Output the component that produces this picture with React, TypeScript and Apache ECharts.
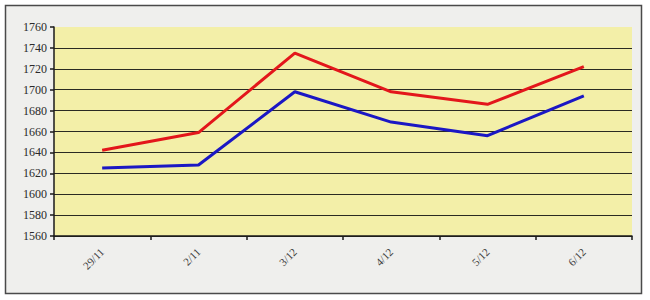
import React, { useEffect, useRef } from "react";
import * as echarts from "echarts";

const categories = ["29/11", "2/11", "3/12", "4/12", "5/12", "6/12"];
const redSeries = [1642, 1659, 1735, 1698, 1686, 1722];
const blueSeries = [1625, 1628, 1698, 1669, 1656, 1694];
const yMin = 1560;
const yMax = 1760;
const yStep = 20;

export default function App() {
  const ref = useRef<HTMLDivElement>(null);
  useEffect(() => {
    if (!ref.current) return;
    const chart = echarts.init(ref.current, null, { renderer: "svg" });
    const gridColors: string[] = [];
    for (let v = yMin; v <= yMax; v += yStep) {
      gridColors.push(v === yMax ? "rgba(0,0,0,0)" : "#2a2a22");
    }
    chart.setOption({
      animation: false,
      backgroundColor: "#ffffff",
      graphic: [
        {
          type: "rect",
          z: -10,
          shape: { x: 5.5, y: 5.5, width: 636, height: 288 },
          style: { fill: "#efefed", stroke: "#4a4a4a", lineWidth: 1.5 },
          silent: true,
        },
      ],
      grid: {
        left: 54,
        right: 18,
        top: 27,
        bottom: 64,
        show: true,
        backgroundColor: "#f3efa8",
        borderWidth: 0,
      },
      xAxis: {
        type: "category",
        data: categories,
        boundaryGap: true,
        axisLine: { show: true, lineStyle: { color: "#1a1a1a", width: 1.5 } },
        axisTick: {
          show: true,
          alignWithLabel: false,
          length: 4,
          inside: false,
          lineStyle: { color: "#1a1a1a", width: 1.5 },
        },
        axisLabel: {
          rotate: 45,
          margin: 14,
          color: "#3a3a3a",
          fontFamily: "Liberation Serif",
          fontSize: 11,
        },
        splitLine: { show: false },
      },
      yAxis: {
        type: "value",
        min: yMin,
        max: yMax,
        interval: yStep,
        axisLine: { show: true, lineStyle: { color: "#1a1a1a", width: 1.5 } },
        axisTick: { show: true, length: 4, lineStyle: { color: "#1a1a1a", width: 1.5 } },
        axisLabel: {
          margin: 7,
          color: "#2a2a2a",
          fontFamily: "Liberation Serif",
          fontSize: 12,
          formatter: (v: number) => String(v),
        },
        splitLine: { show: true, lineStyle: { color: gridColors, width: 1.2 } },
      },
      series: [
        {
          name: "red",
          type: "line",
          data: redSeries,
          symbol: "none",
          lineStyle: { color: "#e3161b", width: 3 },
          z: 3,
        },
        {
          name: "blue",
          type: "line",
          data: blueSeries,
          symbol: "none",
          lineStyle: { color: "#1b17c4", width: 3 },
          z: 3,
        },
      ],
    });
    return () => chart.dispose();
  }, []);
  return (
    <div
      ref={ref}
      style={{ position: "fixed", left: 0, top: 0, width: 650, height: 300 }}
    />
  );
}
